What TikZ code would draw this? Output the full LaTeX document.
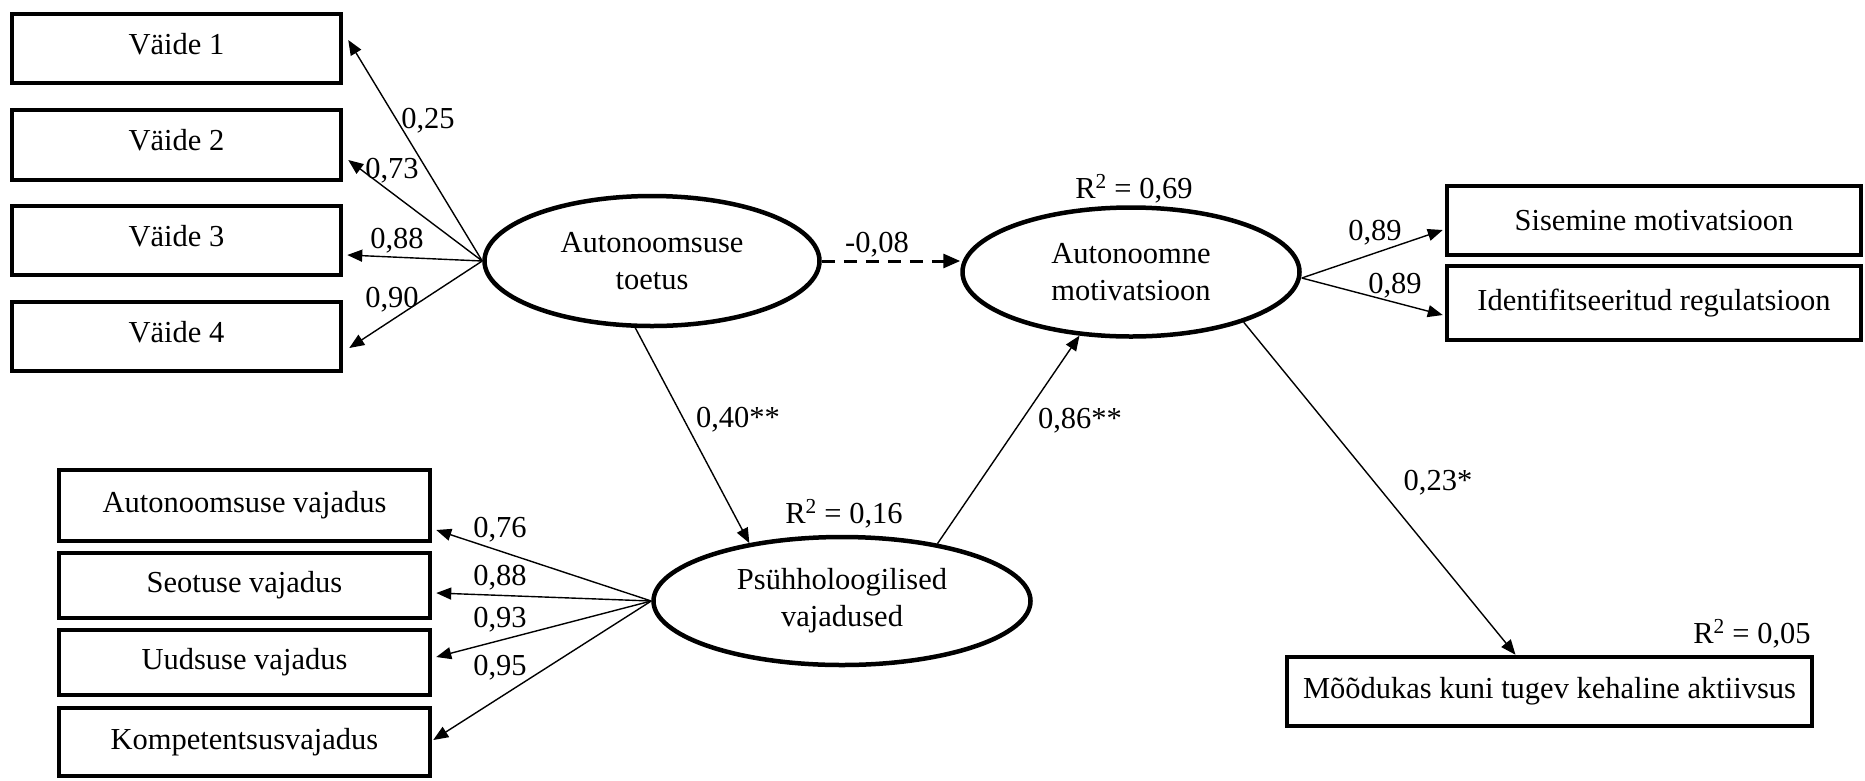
\documentclass[tikz,border=0pt]{standalone}
\usepackage{fontspec}
\setmainfont{Liberation Serif}
\usetikzlibrary{arrows.meta,shapes.geometric}
\begin{document}
\begin{tikzpicture}[x=1pt,y=-1pt,
  font=\fontsize{30.5}{37}\selectfont,
  box/.style={draw, rectangle, line width=4.5pt, inner sep=0pt, align=center},
  vbox/.style={box, text depth=10pt},
  lat/.style={draw, ellipse, line width=4.5pt, inner sep=0pt, align=center},
  arr/.style={line width=1.4pt, -{Triangle[length=15pt,width=12pt]}},
  darr/.style={line width=3pt, dash pattern=on 13pt off 9pt, -{Triangle[length=17pt,width=14pt]}},
  lbl/.style={anchor=base, inner sep=0pt}]
\useasboundingbox (0,0) rectangle (1865,780);

% Vaide boxes
\node[vbox, minimum width=329pt, minimum height=69pt] (v1) at (176.5,48.5) {Väide 1};
\node[vbox, minimum width=329pt, minimum height=70pt] (v2) at (176.5,145) {Väide 2};
\node[vbox, minimum width=329pt, minimum height=69pt] (v3) at (176.5,240.5) {Väide 3};
\node[vbox, minimum width=329pt, minimum height=69pt] (v4) at (176.5,336.5) {Väide 4};

% needs boxes
\node[box, minimum width=371pt, minimum height=71pt] (av) at (244.5,505.5) {Autonoomsuse vajadus};
\node[box, minimum width=371pt, minimum height=65pt] (sv) at (244.5,585.5) {Seotuse vajadus};
\node[box, minimum width=371pt, minimum height=65pt] (uv) at (244.5,662.5) {Uudsuse vajadus};
\node[box, minimum width=371pt, minimum height=68pt] (kv) at (244.5,742) {Kompetentsusvajadus};

% right boxes
\node[box, minimum width=414pt, minimum height=69pt] (sm) at (1654,220.5) {Sisemine motivatsioon};
\node[box, minimum width=414pt, minimum height=74pt] (ir) at (1654,303) {Identifitseeritud regulatsioon};
\node[box, minimum width=525pt, minimum height=69pt] (mk) at (1549.5,691.5) {Mõõdukas kuni tugev kehaline aktiivsus};

% latent ellipses
\node[lat, minimum width=335pt, minimum height=130pt] (at) at (652,261) {Autonoomsuse\\toetus};
\node[lat, minimum width=337pt, minimum height=129pt] (am) at (1131,272) {Autonoomne\\motivatsioon};
\node[lat, minimum width=377pt, minimum height=128pt] (pv) at (842,601) {Psühholoogilised\\vajadused};

% loadings of Autonoomsuse toetus
\draw[arr] (at.west) -- ([xshift=5pt,yshift=8.5pt]v1.east);
\draw[arr] (at.west) -- ([xshift=5pt,yshift=-15pt]v2.east);
\draw[arr] (at.west) -- ([xshift=4pt,yshift=-14.5pt]v3.east);
\draw[arr] (at.west) -- ([xshift=6pt,yshift=-11.5pt]v4.east);

% loadings of Psuhholoogilised vajadused
\draw[arr] (pv.west) -- ([xshift=4pt,yshift=-24.5pt]av.east);
\draw[arr] (pv.west) -- ([xshift=4pt,yshift=-7.5pt]sv.east);
\draw[arr] (pv.west) -- ([xshift=4pt,yshift=5.5pt]uv.east);
\draw[arr] (pv.west) -- ([xshift=1pt,yshift=2pt]kv.east);

% loadings of Autonoomne motivatsioon
\draw[arr] ([yshift=-6pt]am.east) -- ([xshift=-2pt,yshift=-9.5pt]sm.west);
\draw[arr] ([yshift=-6pt]am.east) -- ([xshift=-2pt,yshift=-12pt]ir.west);

% structural paths
\draw[darr] (at.east) -- (at.east -| am.west);
\draw[arr] (at.256) -- (pv.148);
\draw[arr] (pv.31) -- (am.231);
\draw[arr] (am.336) -- ([xshift=-34pt]mk.north);

% labels
\node[lbl] (l1) at (428,128) {0,25};
\node[lbl] (l2) at (392,178) {0,73};
\node[lbl] (l3) at (397,248) {0,88};
\node[lbl] (l4) at (392,307) {0,90};
\node[lbl] (l5) at (500,537) {0,76};
\node[lbl] (l6) at (500,585) {0,88};
\node[lbl] (l7) at (500,627) {0,93};
\node[lbl] (l8) at (500,675) {0,95};
\node[lbl] (l9) at (1375,240) {0,89};
\node[lbl] (l10) at (1395,293) {0,89};
\node[lbl] (l11) at (877,252) {-0,08};
\node[lbl] (l12) at (738,427) {0,40**};
\node[lbl] (l13) at (1080,428) {0,86**};
\node[lbl] (l14) at (1438,490) {0,23*};
\node[lbl] (r1) at (1134,198) {R\textsuperscript{2} = 0,69};
\node[lbl] (r2) at (844,523) {R\textsuperscript{2} = 0,16};
\node[lbl] (r3) at (1752,643) {R\textsuperscript{2} = 0,05};
\end{tikzpicture}
\end{document}
